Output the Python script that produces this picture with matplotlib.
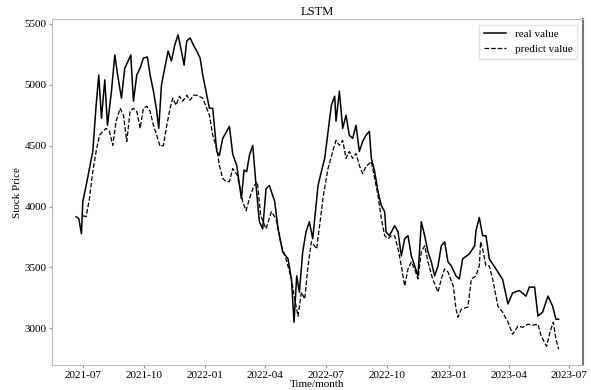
import pandas as pd
import matplotlib
matplotlib.use("Agg")
import matplotlib.pyplot as plt
import matplotlib.dates as mdates

plt.rcParams['font.family'] = ['Liberation Serif', 'DejaVu Serif']

# values
real_dates = [
    "2021-06-21", "2021-06-25", "2021-06-29", "2021-07-01", "2021-07-06", "2021-07-11",
    "2021-07-16", "2021-07-21", "2021-07-25", "2021-07-29", "2021-08-03", "2021-08-07",
    "2021-08-13", "2021-08-18", "2021-08-23", "2021-08-28", "2021-09-02", "2021-09-07",
    "2021-09-11", "2021-09-15", "2021-09-20", "2021-09-25", "2021-09-30", "2021-10-06",
    "2021-10-10", "2021-10-15", "2021-10-20", "2021-10-23", "2021-10-27", "2021-11-01",
    "2021-11-06", "2021-11-11", "2021-11-16", "2021-11-21", "2021-11-26", "2021-11-30",
    "2021-12-04", "2021-12-09", "2021-12-14", "2021-12-19", "2021-12-24", "2021-12-28",
    "2022-01-03", "2022-01-07", "2022-01-12", "2022-01-18", "2022-01-22", "2022-01-27",
    "2022-02-02", "2022-02-06", "2022-02-11", "2022-02-17", "2022-02-24", "2022-02-28",
    "2022-03-04", "2022-03-08", "2022-03-13", "2022-03-18", "2022-03-23", "2022-03-28",
    "2022-04-02", "2022-04-07", "2022-04-15", "2022-04-20", "2022-04-27", "2022-05-05",
    "2022-05-10", "2022-05-14", "2022-05-18", "2022-05-22", "2022-05-27", "2022-06-01",
    "2022-06-06", "2022-06-11", "2022-06-19", "2022-06-24", "2022-06-29", "2022-07-04",
    "2022-07-09", "2022-07-14", "2022-07-16", "2022-07-21", "2022-07-26", "2022-07-31",
    "2022-08-05", "2022-08-10", "2022-08-15", "2022-08-20", "2022-08-25", "2022-08-30",
    "2022-09-04", "2022-09-07", "2022-09-12", "2022-09-17", "2022-09-22", "2022-09-27",
    "2022-09-29", "2022-10-04", "2022-10-12", "2022-10-17", "2022-10-22", "2022-10-27",
    "2022-11-01", "2022-11-06", "2022-11-11", "2022-11-16", "2022-11-21", "2022-11-26",
    "2022-12-01", "2022-12-06", "2022-12-11", "2022-12-16", "2022-12-21", "2022-12-26",
    "2022-12-31", "2023-01-05", "2023-01-12", "2023-01-17", "2023-01-22", "2023-02-01",
    "2023-02-09", "2023-02-11", "2023-02-16", "2023-02-21", "2023-02-26", "2023-03-03",
    "2023-03-13", "2023-03-23", "2023-03-31", "2023-04-07", "2023-04-17", "2023-04-27",
    "2023-05-02", "2023-05-10", "2023-05-15", "2023-05-22", "2023-05-30", "2023-06-06",
    "2023-06-11", "2023-06-15",
]
real_values = [
    3916, 3900, 3776, 4040, 4172, 4312,
    4452, 4832, 5080, 4725, 5040, 4667,
    4947, 5244, 5055, 4890, 5137, 5195,
    5244, 4865, 5080, 5137, 5220, 5228,
    5080, 4947, 4782, 4642, 4997, 5137,
    5277, 5195, 5327, 5410, 5277, 5162,
    5360, 5385, 5327, 5277, 5220, 5080,
    4914, 4807, 4807, 4452, 4420, 4560,
    4617, 4658, 4430, 4337, 4065, 4300,
    4287, 4420, 4502, 4172, 3875, 3817,
    4147, 4172, 4040, 3817, 3627, 3570,
    3405, 3050, 3430, 3297, 3627, 3792,
    3875, 3735, 4172, 4287, 4395, 4617,
    4832, 4906, 4700, 4947, 4642, 4750,
    4585, 4560, 4667, 4452, 4535, 4585,
    4617, 4395, 4287, 4122, 4007, 3957,
    3792, 3760, 3842, 3792, 3594, 3735,
    3760, 3594, 3512, 3430, 3875, 3760,
    3627, 3545, 3430, 3512, 3677, 3710,
    3545, 3512, 3430, 3405, 3570, 3610,
    3677, 3800, 3910, 3760, 3760, 3570,
    3487, 3400, 3200, 3290, 3310, 3264,
    3338, 3338, 3100, 3132, 3264, 3182,
    3074, 3074,
]

pred_dates = [
    "2021-07-01", "2021-07-06", "2021-07-11", "2021-07-16", "2021-07-21", "2021-07-26",
    "2021-07-31", "2021-08-05", "2021-08-10", "2021-08-15", "2021-08-20", "2021-08-26",
    "2021-08-31", "2021-09-05", "2021-09-10", "2021-09-15", "2021-09-20", "2021-09-25",
    "2021-09-30", "2021-10-05", "2021-10-10", "2021-10-15", "2021-10-20", "2021-10-25",
    "2021-10-30", "2021-11-04", "2021-11-09", "2021-11-13", "2021-11-18", "2021-11-23",
    "2021-11-28", "2021-12-04", "2021-12-09", "2021-12-14", "2021-12-19", "2021-12-28",
    "2022-01-03", "2022-01-07", "2022-01-12", "2022-01-18", "2022-01-22", "2022-01-27",
    "2022-02-01", "2022-02-06", "2022-02-11", "2022-02-18", "2022-02-26", "2022-03-03",
    "2022-03-08", "2022-03-15", "2022-03-20", "2022-03-25", "2022-04-02", "2022-04-10",
    "2022-04-17", "2022-04-25", "2022-05-02", "2022-05-10", "2022-05-15", "2022-05-20",
    "2022-05-25", "2022-05-30", "2022-06-04", "2022-06-09", "2022-06-17", "2022-06-22",
    "2022-06-27", "2022-07-04", "2022-07-11", "2022-07-16", "2022-07-21", "2022-07-26",
    "2022-07-31", "2022-08-05", "2022-08-10", "2022-08-15", "2022-08-20", "2022-08-25",
    "2022-08-30", "2022-09-07", "2022-09-12", "2022-09-17", "2022-09-22", "2022-09-27",
    "2022-10-02", "2022-10-07", "2022-10-12", "2022-10-17", "2022-10-22", "2022-10-27",
    "2022-11-01", "2022-11-06", "2022-11-11", "2022-11-16", "2022-11-21", "2022-11-26",
    "2022-12-01", "2022-12-08", "2022-12-16", "2022-12-21", "2022-12-26", "2022-12-31",
    "2023-01-08", "2023-01-12", "2023-01-15", "2023-01-20", "2023-01-30", "2023-02-04",
    "2023-02-11", "2023-02-16", "2023-02-18", "2023-02-21", "2023-02-26", "2023-03-03",
    "2023-03-08", "2023-03-16", "2023-03-23", "2023-03-31", "2023-04-07", "2023-04-15",
    "2023-04-22", "2023-04-30", "2023-05-07", "2023-05-15", "2023-05-20", "2023-05-28",
    "2023-06-02", "2023-06-07", "2023-06-11", "2023-06-15",
]
pred_values = [
    3924, 3916, 4065, 4287, 4452, 4585,
    4617, 4642, 4617, 4502, 4700, 4807,
    4750, 4535, 4782, 4807, 4782, 4642,
    4807, 4823, 4782, 4667, 4585, 4493,
    4502, 4667, 4807, 4890, 4832, 4906,
    4865, 4914, 4873, 4914, 4914, 4890,
    4807, 4750, 4585, 4477, 4337, 4230,
    4205, 4205, 4312, 4254, 4040, 3966,
    4065, 4172, 4200, 3924, 3817, 3957,
    3900, 3677, 3570, 3405, 3240, 3099,
    3297, 3240, 3512, 3710, 3652, 3870,
    4090, 4312, 4452, 4543, 4502, 4543,
    4395, 4452, 4395, 4436, 4337, 4270,
    4328, 4370, 4230, 4090, 3900, 3760,
    3735, 3760, 3760, 3652, 3512, 3347,
    3487, 3545, 3487, 3405, 3627, 3677,
    3545, 3405, 3297, 3405, 3487, 3462,
    3347, 3157, 3091, 3157, 3174, 3405,
    3430, 3512, 3710, 3652, 3512, 3512,
    3405, 3182, 3132, 3050, 2951, 3017,
    3008, 3033, 3025, 3033, 2934, 2852,
    2967, 3050, 2910, 2827,
]

fig = plt.figure(figsize=(5.91, 3.90), dpi=100)
ax = fig.add_axes([0.088, 0.064, 0.898, 0.887])

ax.plot(pd.to_datetime(real_dates), real_values, color='black', linewidth=1.1, label='real value')
ax.plot(pd.to_datetime(pred_dates), pred_values, color='black', linewidth=0.9, linestyle='--', label='predict value')

ax.xaxis.set_major_locator(mdates.MonthLocator(bymonth=[1, 4, 7, 10]))
ax.xaxis.set_major_formatter(mdates.DateFormatter('%Y-%m'))
ax.set_yticks([3000, 3500, 4000, 4500, 5000, 5500])
ax.tick_params(labelsize=8, length=2, color='#999999', pad=2)

for side in ['left', 'top', 'bottom']:
    ax.spines[side].set_color('#bbbbbb')
ax.spines['right'].set_color('#777777')
ax.spines['right'].set_linewidth(1.5)

ax.set_title('LSTM', fontsize=9, pad=3)
ax.set_xlabel('Time/month', fontsize=8, labelpad=0)
ax.set_ylabel('Stock Price', fontsize=8, labelpad=2)
ax.legend(loc='upper right', fontsize=8, frameon=True, fancybox=False, edgecolor='#dddddd')

fig.savefig('out.png', dpi=100)
